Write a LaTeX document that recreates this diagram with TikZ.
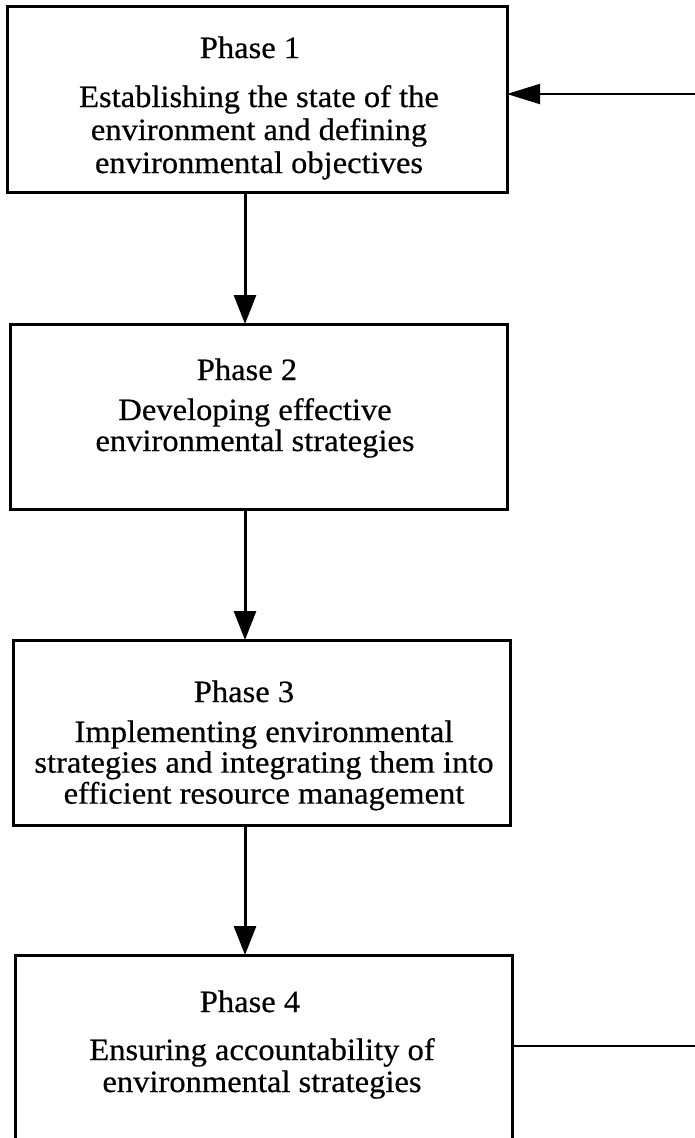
\documentclass[tikz,border=0pt]{standalone}
\usepackage{fontspec}
\setmainfont{Liberation Serif}[FakeStretch=1.05,FakeBold=0.5]
\usetikzlibrary{arrows.meta}
\begin{document}
\begin{tikzpicture}[x=1pt,y=-1pt,
  phasebox/.style={draw, line width=3pt, rectangle, inner sep=0pt, outer sep=0pt},
  title/.style={anchor=base, inner sep=0pt, font=\fontsize{31}{32}\selectfont},
  desc/.style={anchor=base, inner sep=0pt},
  flow/.style={line width=3pt, -{Triangle[length=29pt,width=22pt]}},
  feedline/.style={line width=2pt, -{Triangle[length=33pt,width=20pt]}}]
\useasboundingbox (0,0) rectangle (694,1138);
\fill[white] (0,0) rectangle (694,1138);

% boxes
\node[phasebox, minimum width=500pt, minimum height=186pt] (p1) at (257,99) {};
\node[phasebox, minimum width=497pt, minimum height=185pt] (p2) at (258.5,416.5) {};
\node[phasebox, minimum width=497pt, minimum height=185pt] (p3) at (261.5,732.5) {};
\node[phasebox, minimum width=497pt, minimum height=187pt] (p4) at (263.5,1048.5) {};

% texts
\node[title] (t1) at (250,58) {Phase 1};
\node[desc, font=\fontsize{31}{33}\selectfont] (d1) at (259,107)
  {\begin{tabular}[t]{@{}c@{}}Establishing the state of the\\ environment and defining\\ environmental objectives\end{tabular}};
\node[title] (t2) at (247,380) {Phase 2};
\node[desc, font=\fontsize{31}{31}\selectfont] (d2) at (255,420)
  {\begin{tabular}[t]{@{}c@{}}Developing effective\\ environmental strategies\end{tabular}};
\node[title] (t3) at (244,702) {Phase 3};
\node[desc, font=\fontsize{31}{30.5}\selectfont] (d3) at (264,742)
  {\begin{tabular}[t]{@{}c@{}}Implementing environmental\\ strategies and integrating them into\\ efficient resource management\end{tabular}};
\node[title] (t4) at (250,1012) {Phase 4};
\node[desc, font=\fontsize{31}{32}\selectfont] (d4) at (262,1060)
  {\begin{tabular}[t]{@{}c@{}}Ensuring accountability of\\ environmental strategies\end{tabular}};

% connectors
\coordinate (ax) at (245,0);
\draw[flow] (p1.south -| ax) -- (p2.north -| ax);
\draw[flow] (p2.south -| ax) -- (p3.north -| ax);
\draw[flow] (p3.south -| ax) -- (p4.north -| ax);

\coordinate (fbtop) at (702,94);
\coordinate (fbbot) at (702,1046);
\draw[feedline] (p4.east |- fbbot) -- (fbbot) -- (fbtop) -- (p1.east |- fbtop);
\end{tikzpicture}
\end{document}
